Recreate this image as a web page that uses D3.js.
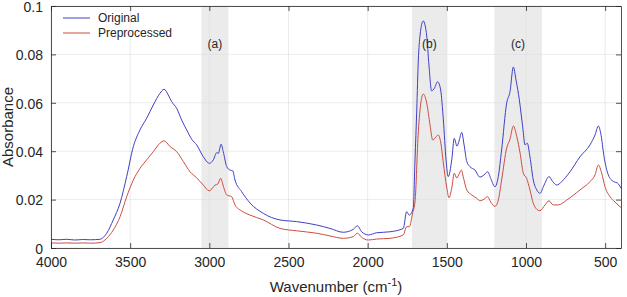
<!DOCTYPE html>
<html>
<head>
<meta charset="utf-8">
<script src="https://cdn.jsdelivr.net/npm/d3@7"></script>
<style>
  body { margin: 0; background: #fff; }
  svg { display: block; font-family: "Liberation Sans", Arial, sans-serif; }
</style>
</head>
<body>
<svg id="chart" width="627" height="297"></svg>
<script>
// spectra (wavenumber in cm-1, absorbance)
var origWn = [4000, 3950, 3900, 3850, 3800, 3750, 3691, 3648, 3607, 3564, 3522, 3480, 3438, 3396, 3354, 3312, 3286,
  3259, 3238, 3206, 3175, 3143, 3111, 3080, 3038, 3000, 2975, 2953, 2943, 2926, 2912, 2890, 2869, 2852, 2838,
  2796, 2743, 2659, 2554, 2448, 2322, 2238, 2154, 2091, 2065, 2038, 1996, 1943, 1859, 1775, 1754, 1737, 1712,
  1701, 1690, 1680, 1669, 1649, 1627, 1613, 1596, 1578, 1558, 1539, 1522, 1505, 1491, 1469, 1453, 1436, 1423,
  1406, 1391, 1374, 1354, 1322, 1291, 1265, 1242, 1223, 1196, 1175, 1154, 1122, 1101, 1080, 1063, 1042, 1021,
  1006, 992, 975, 954, 932, 912, 886, 855, 831, 806, 775, 722, 659, 596, 564, 543, 528, 507, 480, 446, 423, 400];
var origAbs = [0.0036, 0.0034, 0.0036, 0.0033, 0.0035, 0.0034, 0.0036, 0.0061, 0.0116, 0.0185, 0.0295, 0.0419, 0.0488, 0.0536, 0.0591, 0.0639, 0.0656,
  0.0632, 0.0605, 0.0577, 0.0529, 0.0488, 0.0449, 0.0426, 0.0377, 0.0350, 0.0364, 0.0394, 0.0391, 0.0429, 0.0398, 0.0336, 0.0322, 0.0319, 0.0281,
  0.0233, 0.0186, 0.0143, 0.0116, 0.0109, 0.0095, 0.0081, 0.0065, 0.0077, 0.0092, 0.0067, 0.0054, 0.0063, 0.0067, 0.0081, 0.0150, 0.0136, 0.0165,
  0.0364, 0.0570, 0.0777, 0.0880, 0.0938, 0.0876, 0.0756, 0.0649, 0.0661, 0.0687, 0.0653, 0.0529, 0.0364, 0.0295, 0.0364, 0.0453, 0.0421, 0.0442,
  0.0478, 0.0426, 0.0357, 0.0336, 0.0322, 0.0293, 0.0302, 0.0315, 0.0288, 0.0253, 0.0295, 0.0405, 0.0599, 0.0646, 0.0748, 0.0694, 0.0612, 0.0501,
  0.0426, 0.0433, 0.0377, 0.0281, 0.0240, 0.0226, 0.0260, 0.0295, 0.0274, 0.0260, 0.0274, 0.0315, 0.0377, 0.0426, 0.0467, 0.0504, 0.0474, 0.0377, 0.0302, 0.0274, 0.0269, 0.0247];

var prepWn = [4000, 3950, 3900, 3850, 3800, 3750, 3691, 3648, 3607, 3564, 3522, 3480, 3438, 3396, 3354, 3312, 3286,
  3248, 3206, 3164, 3122, 3080, 3038, 3000, 2964, 2947, 2928, 2912, 2890, 2859, 2838, 2796, 2743, 2659, 2554,
  2448, 2322, 2238, 2154, 2091, 2065, 2038, 1996, 1943, 1859, 1775, 1754, 1737, 1716, 1701, 1680, 1663, 1649,
  1627, 1606, 1589, 1568, 1555, 1539, 1522, 1501, 1486, 1469, 1453, 1437, 1425, 1408, 1396, 1374, 1342, 1310,
  1291, 1265, 1243, 1223, 1196, 1175, 1154, 1122, 1101, 1080, 1058, 1037, 1017, 996, 975, 954, 932, 912, 880,
  855, 828, 796, 743, 659, 596, 564, 543, 522, 501, 469, 438, 400];
var prepAbs = [0.0021, 0.0020, 0.0021, 0.0020, 0.0021, 0.0020, 0.0022, 0.0040, 0.0074, 0.0129, 0.0212, 0.0281, 0.0329, 0.0364, 0.0398, 0.0433, 0.0443,
  0.0419, 0.0398, 0.0357, 0.0315, 0.0290, 0.0260, 0.0236, 0.0260, 0.0264, 0.0288, 0.0256, 0.0219, 0.0212, 0.0178, 0.0153, 0.0136, 0.0116, 0.0081,
  0.0071, 0.0061, 0.0050, 0.0040, 0.0047, 0.0061, 0.0044, 0.0033, 0.0037, 0.0040, 0.0054, 0.0088, 0.0088, 0.0145, 0.0191, 0.0481, 0.0605, 0.0636,
  0.0599, 0.0508, 0.0446, 0.0459, 0.0467, 0.0438, 0.0351, 0.0252, 0.0207, 0.0248, 0.0309, 0.0289, 0.0302, 0.0322, 0.0293, 0.0240, 0.0219, 0.0205,
  0.0195, 0.0202, 0.0212, 0.0190, 0.0172, 0.0198, 0.0281, 0.0413, 0.0450, 0.0504, 0.0460, 0.0391, 0.0309, 0.0288, 0.0240, 0.0185, 0.0160, 0.0154, 0.0178,
  0.0195, 0.0178, 0.0178, 0.0198, 0.0240, 0.0274, 0.0302, 0.0343, 0.0309, 0.0253, 0.0212, 0.0190, 0.0167];

var seriesNames = ["Original", "Preprocessed"];
var seriesColors = ["#4040c4", "#cc4e42"];

// shaded bands
var bandLabels = ["(a)", "(b)", "(c)"];
var bandFrom = [3050, 1720, 1200];
var bandTo = [2880, 1500, 900];

var xTicks = [4000, 3500, 3000, 2500, 2000, 1500, 1000, 500];
var yTicks = [0, 0.02, 0.04, 0.06, 0.08, 0.1];

var margin = {top: 6, right: 6, bottom: 49, left: 51};
var width = 627 - margin.left - margin.right;
var height = 297 - margin.top - margin.bottom;

var svg = d3.select("#chart");
var g = svg.append("g").attr("transform", "translate(" + margin.left + "," + margin.top + ")");

var x = d3.scaleLinear().domain([4000, 400]).range([0, width]);
var y = d3.scaleLinear().domain([0, 0.1]).range([height, 0]);

// bands
g.selectAll("rect.band").data(bandLabels).enter().append("rect")
  .attr("class", "band")
  .attr("x", function(d, i){ return x(bandFrom[i]); })
  .attr("y", 0)
  .attr("width", function(d, i){ return x(bandTo[i]) - x(bandFrom[i]); })
  .attr("height", height)
  .attr("fill", "#ebebeb");

// grid
g.append("g").selectAll("line").data(xTicks).enter().append("line")
  .attr("x1", function(d){ return x(d); }).attr("x2", function(d){ return x(d); })
  .attr("y1", 0).attr("y2", height)
  .attr("stroke", "#dedede").attr("stroke-width", 0.6);
g.append("g").selectAll("line").data(yTicks).enter().append("line")
  .attr("x1", 0).attr("x2", width)
  .attr("y1", function(d){ return y(d); }).attr("y2", function(d){ return y(d); })
  .attr("stroke", "#dedede").attr("stroke-width", 0.6);

// spectra
var line = d3.line()
  .x(function(d){ return x(d[0]); })
  .y(function(d){ return y(d[1]); })
  .curve(d3.curveMonotoneX);

var series = [d3.zip(origWn, origAbs), d3.zip(prepWn, prepAbs)];
// draw preprocessed first so original sits on top
[1, 0].forEach(function(i){
  g.append("path")
    .datum(series[i])
    .attr("d", line)
    .attr("fill", "none")
    .attr("stroke", seriesColors[i])
    .attr("stroke-width", 1);
});

// axes, ticks inside
var axisColor = "#262626";
var xAxis = g.append("g").attr("transform", "translate(0," + height + ")")
  .call(d3.axisBottom(x).tickValues(xTicks).tickSizeInner(-5).tickSizeOuter(0).tickPadding(9)
    .tickFormat(d3.format("d")));
var xTop = g.append("g")
  .call(d3.axisTop(x).tickValues(xTicks).tickSizeInner(-5).tickSizeOuter(0).tickFormat(""));
var yAxis = g.append("g")
  .call(d3.axisLeft(y).tickValues(yTicks).tickSizeInner(-5).tickSizeOuter(0).tickPadding(8)
    .tickFormat(function(d){ return d3.format("~g")(d); }));
var yRight = g.append("g").attr("transform", "translate(" + width + ",0)")
  .call(d3.axisRight(y).tickValues(yTicks).tickSizeInner(-5).tickSizeOuter(0).tickFormat(""));

[xAxis, xTop, yAxis, yRight].forEach(function(a){
  a.select(".domain").attr("stroke", axisColor).attr("stroke-width", 0.8);
  a.selectAll(".tick line").attr("stroke", axisColor).attr("stroke-width", 0.8);
  a.selectAll(".tick text").attr("fill", "#262626").style("font-size", "14px")
    .style("font-family", "'Liberation Sans', Arial, sans-serif");
});
yAxis.selectAll(".tick text").attr("dy", "0.38em");

// band labels
g.selectAll("text.bandlbl").data(bandLabels).enter().append("text")
  .attr("class", "bandlbl")
  .attr("x", function(d, i){ return (x(bandFrom[i]) + x(bandTo[i])) / 2; })
  .attr("y", 42)
  .attr("text-anchor", "middle")
  .style("font-size", "12px")
  .attr("fill", "#262626")
  .text(function(d){ return d; });

// legend
var legend = g.append("g").attr("transform", "translate(12,12)");
seriesNames.forEach(function(name, i){
  legend.append("line")
    .attr("x1", 0).attr("x2", 27)
    .attr("y1", i * 15).attr("y2", i * 15)
    .attr("stroke", seriesColors[i]).attr("stroke-width", 1);
  legend.append("text")
    .attr("x", 35).attr("y", i * 15 + 4)
    .style("font-size", "12px")
    .attr("fill", "#262626")
    .text(name);
});

// axis titles
svg.append("text")
  .attr("transform", "translate(13," + (margin.top + height / 2) + ") rotate(-90)")
  .attr("text-anchor", "middle")
  .style("font-size", "15px")
  .attr("fill", "#262626")
  .text("Absorbance");

var xl = svg.append("text")
  .attr("x", margin.left + width / 2)
  .attr("y", 292)
  .attr("text-anchor", "middle")
  .style("font-size", "15px")
  .attr("fill", "#262626");
xl.append("tspan").text("Wavenumber (cm");
xl.append("tspan").attr("dy", -6).style("font-size", "11px").text("-1");
xl.append("tspan").attr("dy", 6).text(")");
</script>
</body>
</html>
